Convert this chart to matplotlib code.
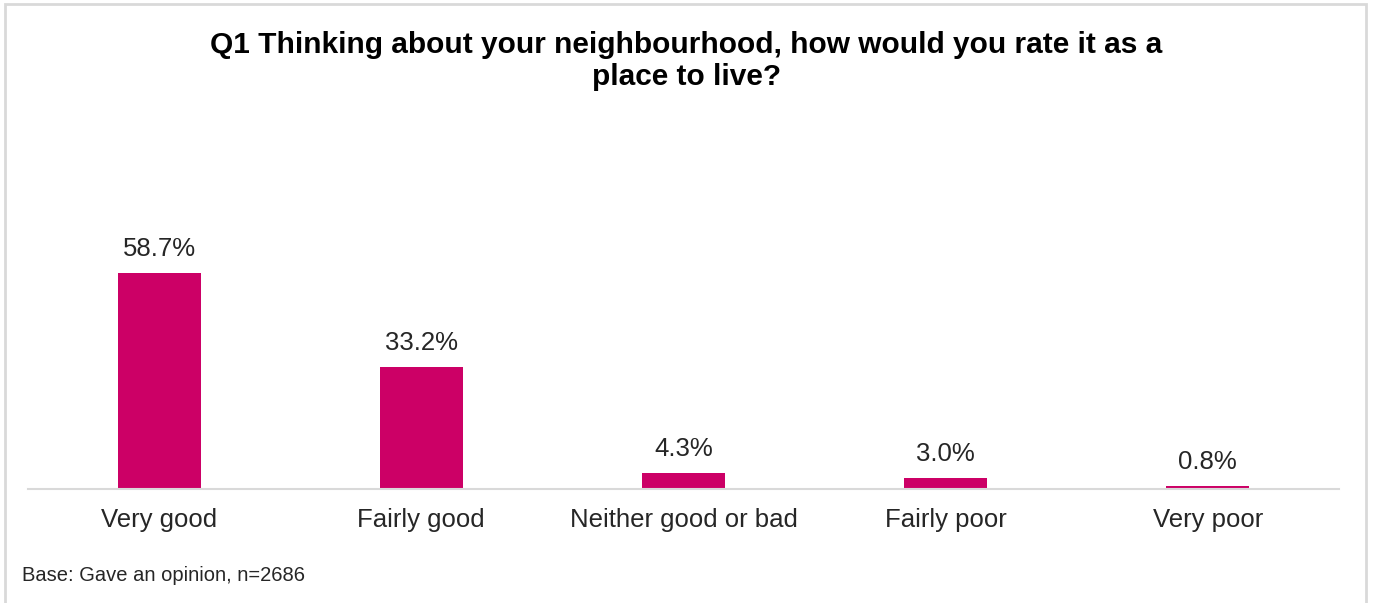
import matplotlib.pyplot as plt
from matplotlib.patches import Rectangle

plt.rcParams['font.family'] = ['Liberation Sans', 'DejaVu Sans']

categories = ['Very good', 'Fairly good', 'Neither good or bad', 'Fairly poor', 'Very poor']
values = [58.7, 33.2, 4.3, 3.0, 0.8]
labels = ['58.7%', '33.2%', '4.3%', '3.0%', '0.8%']

fig = plt.figure(figsize=(13.73, 6.03), dpi=100)
ax = fig.add_axes([0.0204, 0.189, 0.9548, 0.61])

x = range(len(categories))
bars = ax.bar(x, values, width=0.317, color='#CC0066')
for b, lab in zip(bars, labels):
    ax.text(b.get_x() + b.get_width() / 2, b.get_height() + 6.5, lab,
            ha='center', va='center', fontsize=18.5, color='#262626')

ax.set_xlim(-0.5, 4.5)
ax.set_ylim(0, 100)
ax.set_xticks(list(x))
ax.set_xticklabels(categories, fontsize=18.5, color='#262626')
ax.tick_params(axis='x', length=0, pad=14)
ax.set_yticks([])
for s in ['top', 'right', 'left']:
    ax.spines[s].set_visible(False)
ax.spines['bottom'].set_color('#D9D9D9')
ax.spines['bottom'].set_linewidth(1.5)

fig.text(0.5, 0.899, 'Q1 Thinking about your neighbourhood, how would you rate it as a\nplace to live?',
         ha='center', va='center', fontsize=21.5, fontweight='bold', linespacing=1.15)
fig.text(0.016, 0.045, 'Base: Gave an opinion, n=2686', ha='left', va='center', fontsize=14.5, color='#262626')

fig.patches.append(Rectangle((5 / 1373, -0.02), 1361 / 1373, 1 - 4 / 603 + 0.02,
                             transform=fig.transFigure, fill=False,
                             edgecolor='#D9D9D9', linewidth=2))

fig.savefig('out.png', dpi=100)
